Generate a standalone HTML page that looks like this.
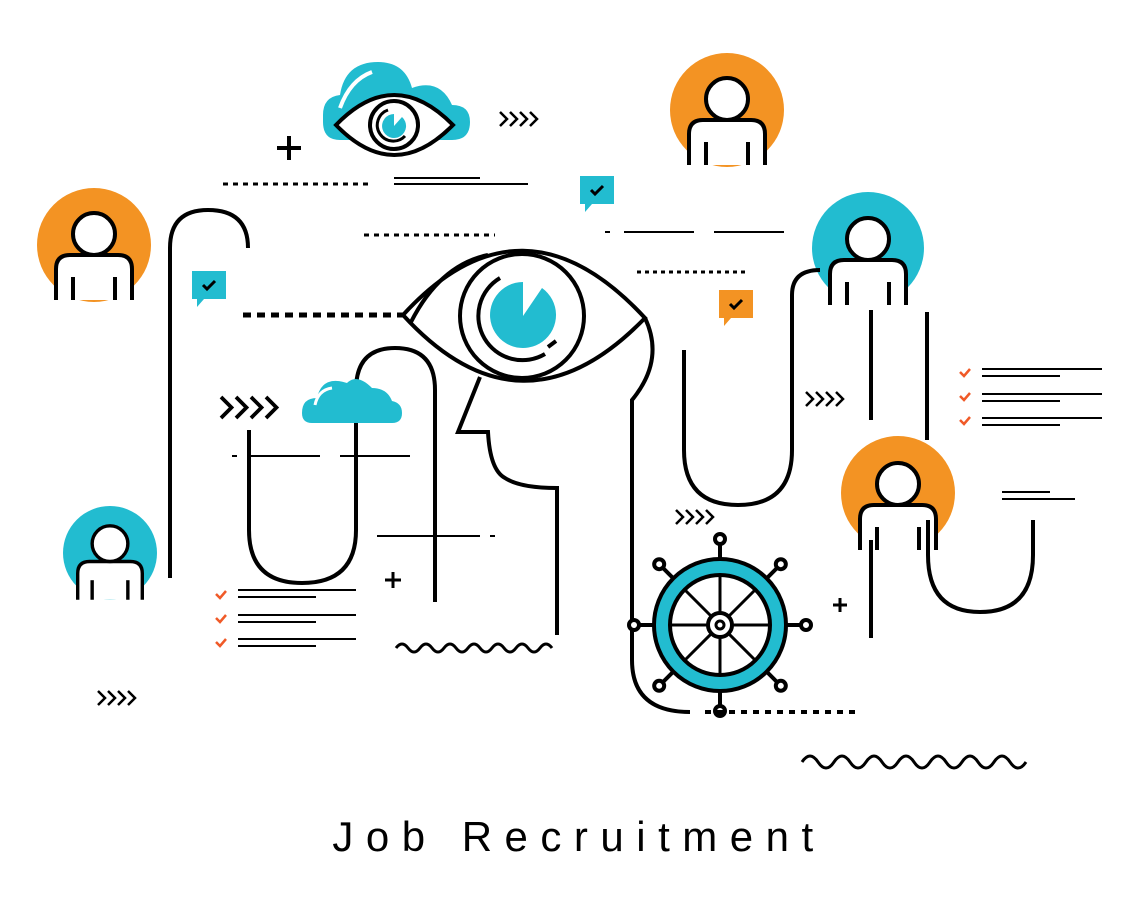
<!DOCTYPE html>
<html><head><meta charset="utf-8"><style>
html,body{margin:0;padding:0;background:#fff}
svg{display:block}
</style></head><body>
<svg width="1146" height="909" viewBox="0 0 1146 909" xmlns="http://www.w3.org/2000/svg">
<defs>
<g id="person">
  <path d="M-38,55 L-38,24 Q-38,10 -24,10 L24,10 Q38,10 38,24 L38,55" fill="#fff" stroke="#000" stroke-width="4"/>
  <circle cx="0" cy="-11" r="21" fill="#fff" stroke="#000" stroke-width="4"/>
  <line x1="-21" y1="32" x2="-21" y2="55" stroke="#000" stroke-width="4"/>
  <line x1="21" y1="32" x2="21" y2="55" stroke="#000" stroke-width="4"/>
</g>
<g id="chev" fill="none" stroke="#000" stroke-width="2.5">
  <path d="M0,0 l7,7 l-7,7 M10,0 l7,7 l-7,7 M20,0 l7,7 l-7,7 M30,0 l7,7 l-7,7"/>
</g>
<g id="bubble">
  <path d="M0,0 h34 v28 h-22 l-7,8 v-8 h-5 z" fill="currentColor"/>
  <path d="M11,14 l4,4 l8,-8" fill="none" stroke="#000" stroke-width="3"/>
</g>
<g id="cloud">
  <path d="M0,30 Q0,15 15,15 Q20,-8 45,0 Q55,-10 70,5 Q85,5 90,18 Q100,20 100,30 Q100,40 90,40 L10,40 Q0,40 0,30 Z" fill="#22bcd0"/>
</g>
</defs>

<!-- persons -->
<circle cx="94" cy="245" r="57" fill="#f39323"/>
<g transform="translate(94,245)"><use href="#person"/></g>
<circle cx="727" cy="110" r="57" fill="#f39323"/>
<g transform="translate(727,110)"><use href="#person"/></g>
<circle cx="868" cy="248" r="56" fill="#22bcd0"/>
<g transform="translate(868,250)"><use href="#person"/></g>
<circle cx="898" cy="493" r="57" fill="#f39323"/>
<g transform="translate(898,495)"><use href="#person"/></g>
<circle cx="110" cy="553" r="47" fill="#22bcd0"/>
<g transform="translate(110,553) scale(0.85)"><use href="#person"/></g>

<g fill="none" stroke="#000" stroke-width="4">
<!-- left arch -->
<path d="M170,578 L170,248 Q170,210 208,210 Q248,210 248,248"/>
<!-- U shape -->
<path d="M249,430 L249,530 Q249,583 302,583 Q356,583 356,530 L356,390 Q356,348 395,348 Q435,348 435,390 L435,602"/>
<!-- head -->
<path d="M480,377 L458,432 L488,432 Q490,470 505,478 Q520,488 557,488 L557,635"/>
<path d="M645,318 Q665,360 632,400 L632,660 Q632,712 690,712"/>
<!-- eye -->
<path d="M403,315 Q522,185 645,318 Q522,445 403,315 Z"/>
<path d="M411,322 Q440,265 488,255"/>
<circle cx="522" cy="316" r="62"/>
<path d="M500,278 A43,43 0 0 0 545,354"/>
<line x1="548" y1="347" x2="556" y2="341"/>
<!-- right U -->
<path d="M684,350 L684,450 Q684,505 738,505 Q792,505 792,450 L792,295 Q792,270 820,270"/>
<line x1="871" y1="310" x2="871" y2="420"/>
<line x1="927" y1="312" x2="927" y2="440"/>
<line x1="871" y1="540" x2="871" y2="638"/>
<path d="M928,520 L928,555 Q928,612 980,612 Q1033,612 1033,555 L1033,520"/>
</g>
<!-- iris -->
<path d="M523,282 A33,33 0 1 0 542,288 L523,316 Z" fill="#22bcd0"/>

<!-- small eye with cloud -->
<path d="M323,115 Q323,97 340,95 Q345,62 378,62 Q405,62 412,88 Q440,78 452,105 Q470,105 470,122 Q470,140 452,140 L340,140 Q323,140 323,122 Z" fill="#22bcd0"/>
<path d="M340,108 Q350,80 372,72" fill="none" stroke="#fff" stroke-width="4"/>
<path d="M336,125 Q394,65 453,125 Q394,185 336,125 Z" fill="#fff" stroke="#000" stroke-width="4"/>
<circle cx="394" cy="125" r="24" fill="#fff" stroke="#000" stroke-width="4"/>
<path d="M388,110 A16,16 0 1 0 405,136" fill="none" stroke="#000" stroke-width="3"/>
<path d="M394,114 A12,12 0 1 0 402,117 L394,126 Z" fill="#22bcd0"/>
<path d="M277,148 h24 M289,136 v24" stroke="#000" stroke-width="4"/>

<!-- cloud small -->
<g transform="translate(302,383)"><use href="#cloud"/></g>
<path d="M315,405 Q318,390 332,388" fill="none" stroke="#fff" stroke-width="3"/>

<!-- wheel -->
<g transform="translate(720,625)" stroke="#000" stroke-width="4" fill="none">
  <g id="spk">
   <line x1="0" y1="-65" x2="0" y2="-82"/><circle cx="0" cy="-86" r="5" fill="#fff"/>
  </g>
  <use href="#spk" transform="rotate(45)"/><use href="#spk" transform="rotate(90)"/><use href="#spk" transform="rotate(135)"/>
  <use href="#spk" transform="rotate(180)"/><use href="#spk" transform="rotate(225)"/><use href="#spk" transform="rotate(270)"/><use href="#spk" transform="rotate(315)"/>
  <circle r="58" stroke="#22bcd0" stroke-width="15"/>
  <circle r="66"/><circle r="50"/>
  <circle r="12"/><circle r="4" stroke-width="3"/>
  <g stroke-width="3">
   <line x1="0" y1="-12" x2="0" y2="-50"/><line x1="0" y1="12" x2="0" y2="50"/>
   <line x1="-12" y1="0" x2="-50" y2="0"/><line x1="12" y1="0" x2="50" y2="0"/>
   <line x1="8" y1="-8" x2="35" y2="-35"/><line x1="-8" y1="8" x2="-35" y2="35"/>
   <line x1="-8" y1="-8" x2="-35" y2="-35"/><line x1="8" y1="8" x2="35" y2="35"/>
  </g>
</g>

<!-- dotted lines -->
<g stroke="#000" fill="none">
<line x1="223" y1="184" x2="368" y2="184" stroke-width="3" stroke-dasharray="5,5"/>
<line x1="364" y1="235" x2="495" y2="235" stroke-width="3" stroke-dasharray="5,5"/>
<line x1="243" y1="315" x2="403" y2="315" stroke-width="5" stroke-dasharray="8,6"/>
<line x1="637" y1="272" x2="745" y2="272" stroke-width="3" stroke-dasharray="4,4"/>
<line x1="705" y1="712" x2="858" y2="712" stroke-width="4" stroke-dasharray="6,6"/>
<g stroke-width="2">
<line x1="394" y1="178" x2="480" y2="178"/><line x1="394" y1="184" x2="528" y2="184"/>
<line x1="605" y1="232" x2="610" y2="232"/><line x1="624" y1="232" x2="694" y2="232"/><line x1="714" y1="232" x2="784" y2="232"/>
<line x1="232" y1="456" x2="237" y2="456"/><line x1="248" y1="456" x2="320" y2="456"/><line x1="340" y1="456" x2="410" y2="456"/>
<line x1="377" y1="536" x2="480" y2="536"/><line x1="490" y1="536" x2="495" y2="536"/>
<line x1="238" y1="590" x2="356" y2="590"/><line x1="238" y1="597" x2="316" y2="597"/>
<line x1="238" y1="615" x2="356" y2="615"/><line x1="238" y1="622" x2="316" y2="622"/>
<line x1="238" y1="639" x2="356" y2="639"/><line x1="238" y1="646" x2="316" y2="646"/>
<line x1="982" y1="369" x2="1102" y2="369"/><line x1="982" y1="376" x2="1060" y2="376"/>
<line x1="982" y1="394" x2="1102" y2="394"/><line x1="982" y1="401" x2="1060" y2="401"/>
<line x1="982" y1="418" x2="1102" y2="418"/><line x1="982" y1="425" x2="1060" y2="425"/>
<line x1="1002" y1="492" x2="1050" y2="492"/><line x1="1002" y1="499" x2="1075" y2="499"/>
</g>
<path d="M396,648 q6,-8 12,0 t12,0 t12,0 t12,0 t12,0 t12,0 t12,0 t12,0 t12,0 t12,0 t12,0 t12,0 t12,0" stroke-width="3"/>
<path d="M802,762 q8,-12 16,0 t16,0 t16,0 t16,0 t16,0 t16,0 t16,0 t16,0 t16,0 t16,0 t16,0 t16,0 t16,0 t16,0" stroke-width="3"/>
<g stroke="#f05a28" stroke-width="2.5">
<path d="M216,594 l4,4 l6,-7 M216,618 l4,4 l6,-7 M216,642 l4,4 l6,-7"/>
<path d="M960,372 l4,4 l6,-7 M960,396 l4,4 l6,-7 M960,420 l4,4 l6,-7"/>
</g>
<path d="M385,580 h16 M393,572 v16 M833,605 h14 M840,598 v14" stroke-width="3"/>
</g>

<g transform="translate(500,112)"><use href="#chev"/></g>
<g transform="translate(221,397) scale(1.5)"><use href="#chev"/></g>
<g transform="translate(806,392)"><use href="#chev"/></g>
<g transform="translate(676,510)"><use href="#chev"/></g>
<g transform="translate(98,691)"><use href="#chev"/></g>

<g transform="translate(192,271)" color="#22bcd0"><use href="#bubble"/></g>
<g transform="translate(580,176)" color="#22bcd0"><use href="#bubble"/></g>
<g transform="translate(719,290)" color="#f39323"><use href="#bubble"/></g>

<text x="579" y="851" text-anchor="middle" font-family="Liberation Sans, sans-serif" font-size="42" letter-spacing="12.5" fill="#000">Job Recruitment</text>
</svg>
</body></html>
